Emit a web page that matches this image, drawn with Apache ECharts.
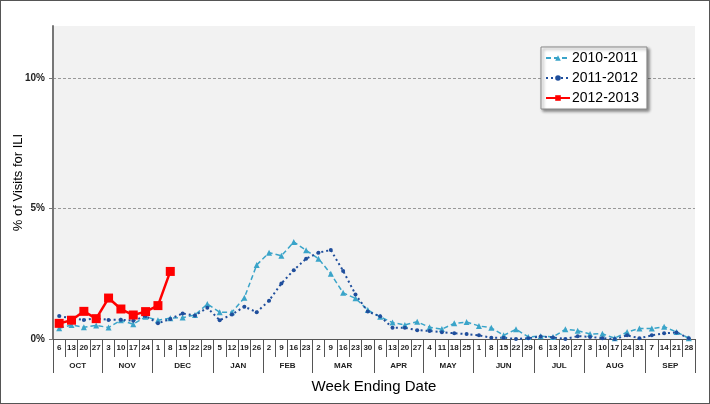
<!DOCTYPE html>
<html>
<head>
<meta charset="utf-8">
<script src="https://cdn.jsdelivr.net/npm/echarts@6/dist/echarts.min.js"></script>
<style>
  html, body { margin: 0; padding: 0; background: #fff; }
  #frame { width: 708px; height: 402px; border: 1px solid #555; }
  #main { width: 708px; height: 402px; }
</style>
</head>
<body>
<div id="frame"><div id="main"></div></div>
<script>
// week ending dates, Oct .. Sep
var weeks = ['6','13','20','27', '3','10','17','24', '1','8','15','22','29',
             '5','12','19','26', '2','9','16','23', '2','9','16','23','30',
             '6','13','20','27', '4','11','18','25', '1','8','15','22','29',
             '6','13','20','27', '3','10','17','24','31', '7','14','21','28'];
var months = ['OCT','NOV','DEC','JAN','FEB','MAR','APR','MAY','JUN','JUL','AUG','SEP'];
var monthWeeks = [4, 4, 5, 4, 4, 5, 4, 4, 5, 4, 5, 4];

var s2010 = [0.41,0.54,0.45,0.52,0.44,0.72,0.57,0.85,0.72,0.80,0.82,0.92,1.34,
             1.03,1.03,1.58,2.84,3.31,3.19,3.72,3.40,3.08,2.50,1.77,1.56,1.11,
             0.85,0.63,0.54,0.66,0.45,0.38,0.60,0.65,0.50,0.43,0.14,0.37,0.08,
             0.11,0.08,0.37,0.32,0.19,0.20,0.03,0.27,0.40,0.40,0.47,0.27,0.03];
var s2011 = [0.88,0.79,0.73,0.79,0.73,0.74,0.70,0.88,0.60,0.77,0.98,0.90,1.20,
             0.72,0.94,1.24,1.03,1.47,2.13,2.64,3.08,3.31,3.41,2.61,1.71,1.05,
             0.87,0.43,0.43,0.34,0.31,0.26,0.22,0.19,0.14,0.05,0.05,0.00,0.03,
             0.10,0.06,0.00,0.11,0.08,0.03,0.00,0.14,0.03,0.14,0.22,0.25,0.03];
var s2012 = [0.60,0.72,1.06,0.78,1.57,1.15,0.92,1.05,1.28,2.59];

// month row: half-week boundaries so labels can sit at month centres
var boundaries = [0];
monthWeeks.forEach(function (n) { boundaries.push(boundaries[boundaries.length - 1] + n); });
var halfCats = [];
for (var h = 0; h <= 104; h++) halfCats.push('');
var tickAt = {};
var labelAt = {};
boundaries.forEach(function (b) { tickAt[b * 2] = true; });
months.forEach(function (m, i) {
  var c = boundaries[i] + boundaries[i + 1];
  halfCats[c] = m;
  labelAt[c] = true;
});

var font = 'Liberation Sans, Arial, sans-serif';
var chart = echarts.init(document.getElementById('main'));
chart.setOption({
  animation: false,
  textStyle: { fontFamily: font },
  grid: {
    left: 52, top: 25, width: 642, height: 313,
    outerBoundsMode: 'none',
    containLabel: false,
    show: true, backgroundColor: '#f2f2f2', borderWidth: 0
  },
  legend: {
    orient: 'vertical',
    left: 540, top: 46,
    padding: [4, 8, 4, 4],
    itemWidth: 24, itemHeight: 7, itemGap: 6,
    backgroundColor: '#fff',
    borderColor: '#888', borderWidth: 1,
    shadowColor: 'rgba(0,0,0,0.45)', shadowBlur: 3,
    shadowOffsetX: 2, shadowOffsetY: 2,
    textStyle: { fontSize: 14, lineHeight: 14, color: '#000', fontFamily: font, padding: [0, 0, 0, -3] },
    data: ['2010-2011', '2011-2012', '2012-2013']
  },
  xAxis: [{
    type: 'category',
    data: weeks,
    boundaryGap: true,
    axisLine: { lineStyle: { color: '#555', width: 1 } },
    axisTick: { show: true, interval: 0, length: 18, lineStyle: { color: '#555', width: 1 } },
    axisLabel: { interval: 0, fontSize: 8, fontWeight: 'bold', color: '#222', margin: 5 }
  }, {
    type: 'category',
    data: halfCats,
    boundaryGap: false,
    position: 'bottom',
    axisLine: { show: false },
    axisTick: {
      show: true,
      length: 34,
      interval: function (i) { return !!tickAt[i]; },
      lineStyle: { color: '#555' }
    },
    axisLabel: {
      interval: function (i) { return !!labelAt[i]; },
      fontSize: 8, fontWeight: 'bold', color: '#222', margin: 23
    },
    name: 'Week Ending Date',
    nameLocation: 'middle',
    nameGap: 40,
    nameMoveOverlap: false,
    nameTextStyle: { fontSize: 15, color: '#000' }
  }],
  yAxis: {
    type: 'value',
    min: 0, max: 12, interval: 5,
    name: '% of Visits for ILI',
    nameLocation: 'middle',
    nameGap: 28,
    nameMoveOverlap: false,
    nameTextStyle: { fontSize: 13, color: '#000' },
    axisLine: { show: true, lineStyle: { color: '#777', width: 2 } },
    axisTick: { show: true, length: 4, lineStyle: { color: '#777' } },
    axisLabel: {
      fontSize: 10, fontWeight: 'bold', color: '#222', margin: 8,
      showMaxLabel: false,
      formatter: function (v) { return v % 5 === 0 ? v + '%' : ''; }
    },
    splitLine: { showMaxLine: false, lineStyle: { color: '#999', type: [3, 2], width: 1 } }
  },
  series: [{
    name: '2010-2011',
    type: 'line',
    data: s2010,
    symbol: 'triangle', symbolSize: 6,
    itemStyle: { color: '#3aa4c9' },
    lineStyle: { color: '#3aa4c9', width: 1.5, type: [5, 3] }
  }, {
    name: '2011-2012',
    type: 'line',
    data: s2011,
    symbol: 'circle', symbolSize: 4,
    itemStyle: { color: '#1f4e9c' },
    lineStyle: { color: '#1f4e9c', width: 2, type: [2, 3] }
  }, {
    name: '2012-2013',
    type: 'line',
    data: s2012,
    symbol: 'rect', symbolSize: 9,
    itemStyle: { color: '#ff0000' },
    lineStyle: { color: '#ff0000', width: 2.5 }
  }]
});
</script>
</body>
</html>
